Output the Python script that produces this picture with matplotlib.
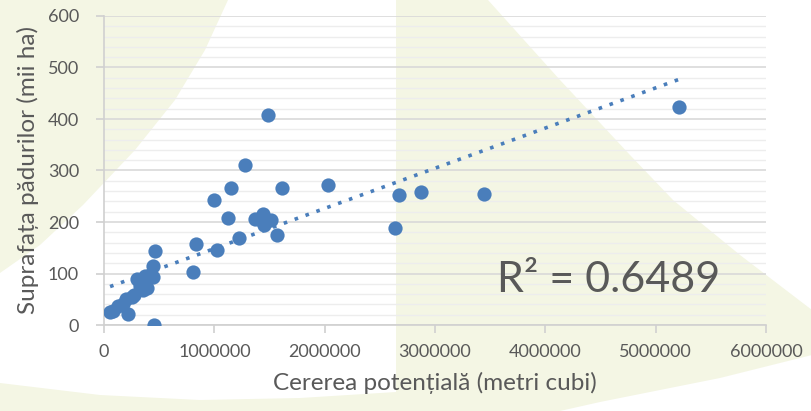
import numpy as np
import matplotlib.pyplot as plt
from matplotlib.patches import Polygon
from matplotlib.ticker import FuncFormatter

# data
cerere = [55000, 80000, 130000, 170000, 200000, 215000, 250000, 270000, 300000,
          330000, 350000, 370000, 390000, 420000, 440000, 445000, 460000, 455000,
          810000, 830000, 1000000, 1025000, 1120000, 1150000, 1220000, 1275000,
          1370000, 1420000, 1440000, 1450000, 1490000, 1510000, 1570000, 1610000,
          2030000, 2640000, 2670000, 2870000, 3440000, 5210000]
suprafata = [25, 28, 36, 40, 50, 22, 55, 58, 90,
             75, 68, 95, 72, 97, 93, 115, 144, 0,
             103, 158, 242, 145, 208, 266, 169, 310,
             206, 204, 215, 195, 408, 203, 175, 266,
             272, 188, 252, 258, 254, 423]
r2_text = "R² = 0.6489"
x_ticks = [0, 1000000, 2000000, 3000000, 4000000, 5000000, 6000000]
y_ticks = [0, 100, 200, 300, 400, 500, 600]

plt.rcParams['font.family'] = ['Lato', 'DejaVu Sans']
blue = "#4A7EBB"
gray_text = "#595959"
shade = "#F4F6E4"

fig = plt.figure(figsize=(8.12, 4.11), dpi=100)
W, H = 812, 411

def px(points):
    return [(x / W, 1 - y / H) for x, y in points]

# pale background shapes (pixel outlines of the watermark)
shapes = [
    [(0, 0), (228, 0), (205, 50), (175, 100), (135, 150), (83, 205), (40, 245), (0, 273)],
    [(396, 0), (488, 0), (560, 80), (630, 155), (673, 200), (740, 255), (812, 310),
     (812, 355), (720, 378), (600, 402), (560, 411), (396, 411)],
    [(0, 383), (100, 395), (200, 400), (300, 398), (396, 392), (396, 411), (0, 411)],
]
for s in shapes:
    fig.patches.append(Polygon(px(s), closed=True, transform=fig.transFigure,
                               facecolor=shade, edgecolor="none", zorder=-10))

ax = fig.add_axes([104 / W, 1 - 325 / H, (766 - 104) / W, (325 - 16) / H])
ax.patch.set_alpha(0)

x = np.array(cerere)
y = np.array(suprafata)
ax.scatter(x, y, s=105, color=blue, zorder=3, linewidths=0)

coef = np.polyfit(x, y, 1)
xt = np.array([x.min(), x.max()])
ax.plot(xt, np.polyval(coef, xt), color=blue, linestyle=(0, (1, 2.2)),
        linewidth=2.6, zorder=2)

ax.set_xlim(0, 6000000)
ax.set_ylim(0, 600)
ax.set_xticks(x_ticks)
ax.set_yticks(y_ticks)
ax.xaxis.set_major_formatter(FuncFormatter(lambda v, p: f"{int(v)}"))
ax.set_yticks(np.arange(0, 601, 20), minor=True)
ax.grid(axis="y", which="major", color="#D9D9D9", linewidth=1.2, zorder=1)
ax.grid(axis="y", which="minor", color="#EDEDED", linewidth=1.0, zorder=1)
for side in ["top", "right"]:
    ax.spines[side].set_visible(False)
ax.spines["left"].set_color("#D0D0D0")
ax.spines["bottom"].set_color("#D0D0D0")
ax.spines["left"].set_linewidth(1.2)
ax.spines["bottom"].set_linewidth(1.2)
ax.tick_params(axis="both", which="major", colors="#D0D0D0", labelcolor=gray_text,
               labelsize=13, length=6, width=1.2)
ax.tick_params(axis="y", which="minor", length=0)
ax.tick_params(axis="x", pad=8)
ax.tick_params(axis="y", pad=12)
ax.set_axisbelow(True)

ax.set_xlabel("Cererea potențială (metri cubi)", fontsize=17.5, color=gray_text, labelpad=8)
ax.set_ylabel("Suprafața pădurilor (mii ha)", fontsize=17.5, color=gray_text, labelpad=6)

ax.text(0.763, 0.146, r2_text, transform=ax.transAxes, fontsize=31, color=gray_text,
        ha="center", va="center")

fig.savefig("out.png", dpi=100)
